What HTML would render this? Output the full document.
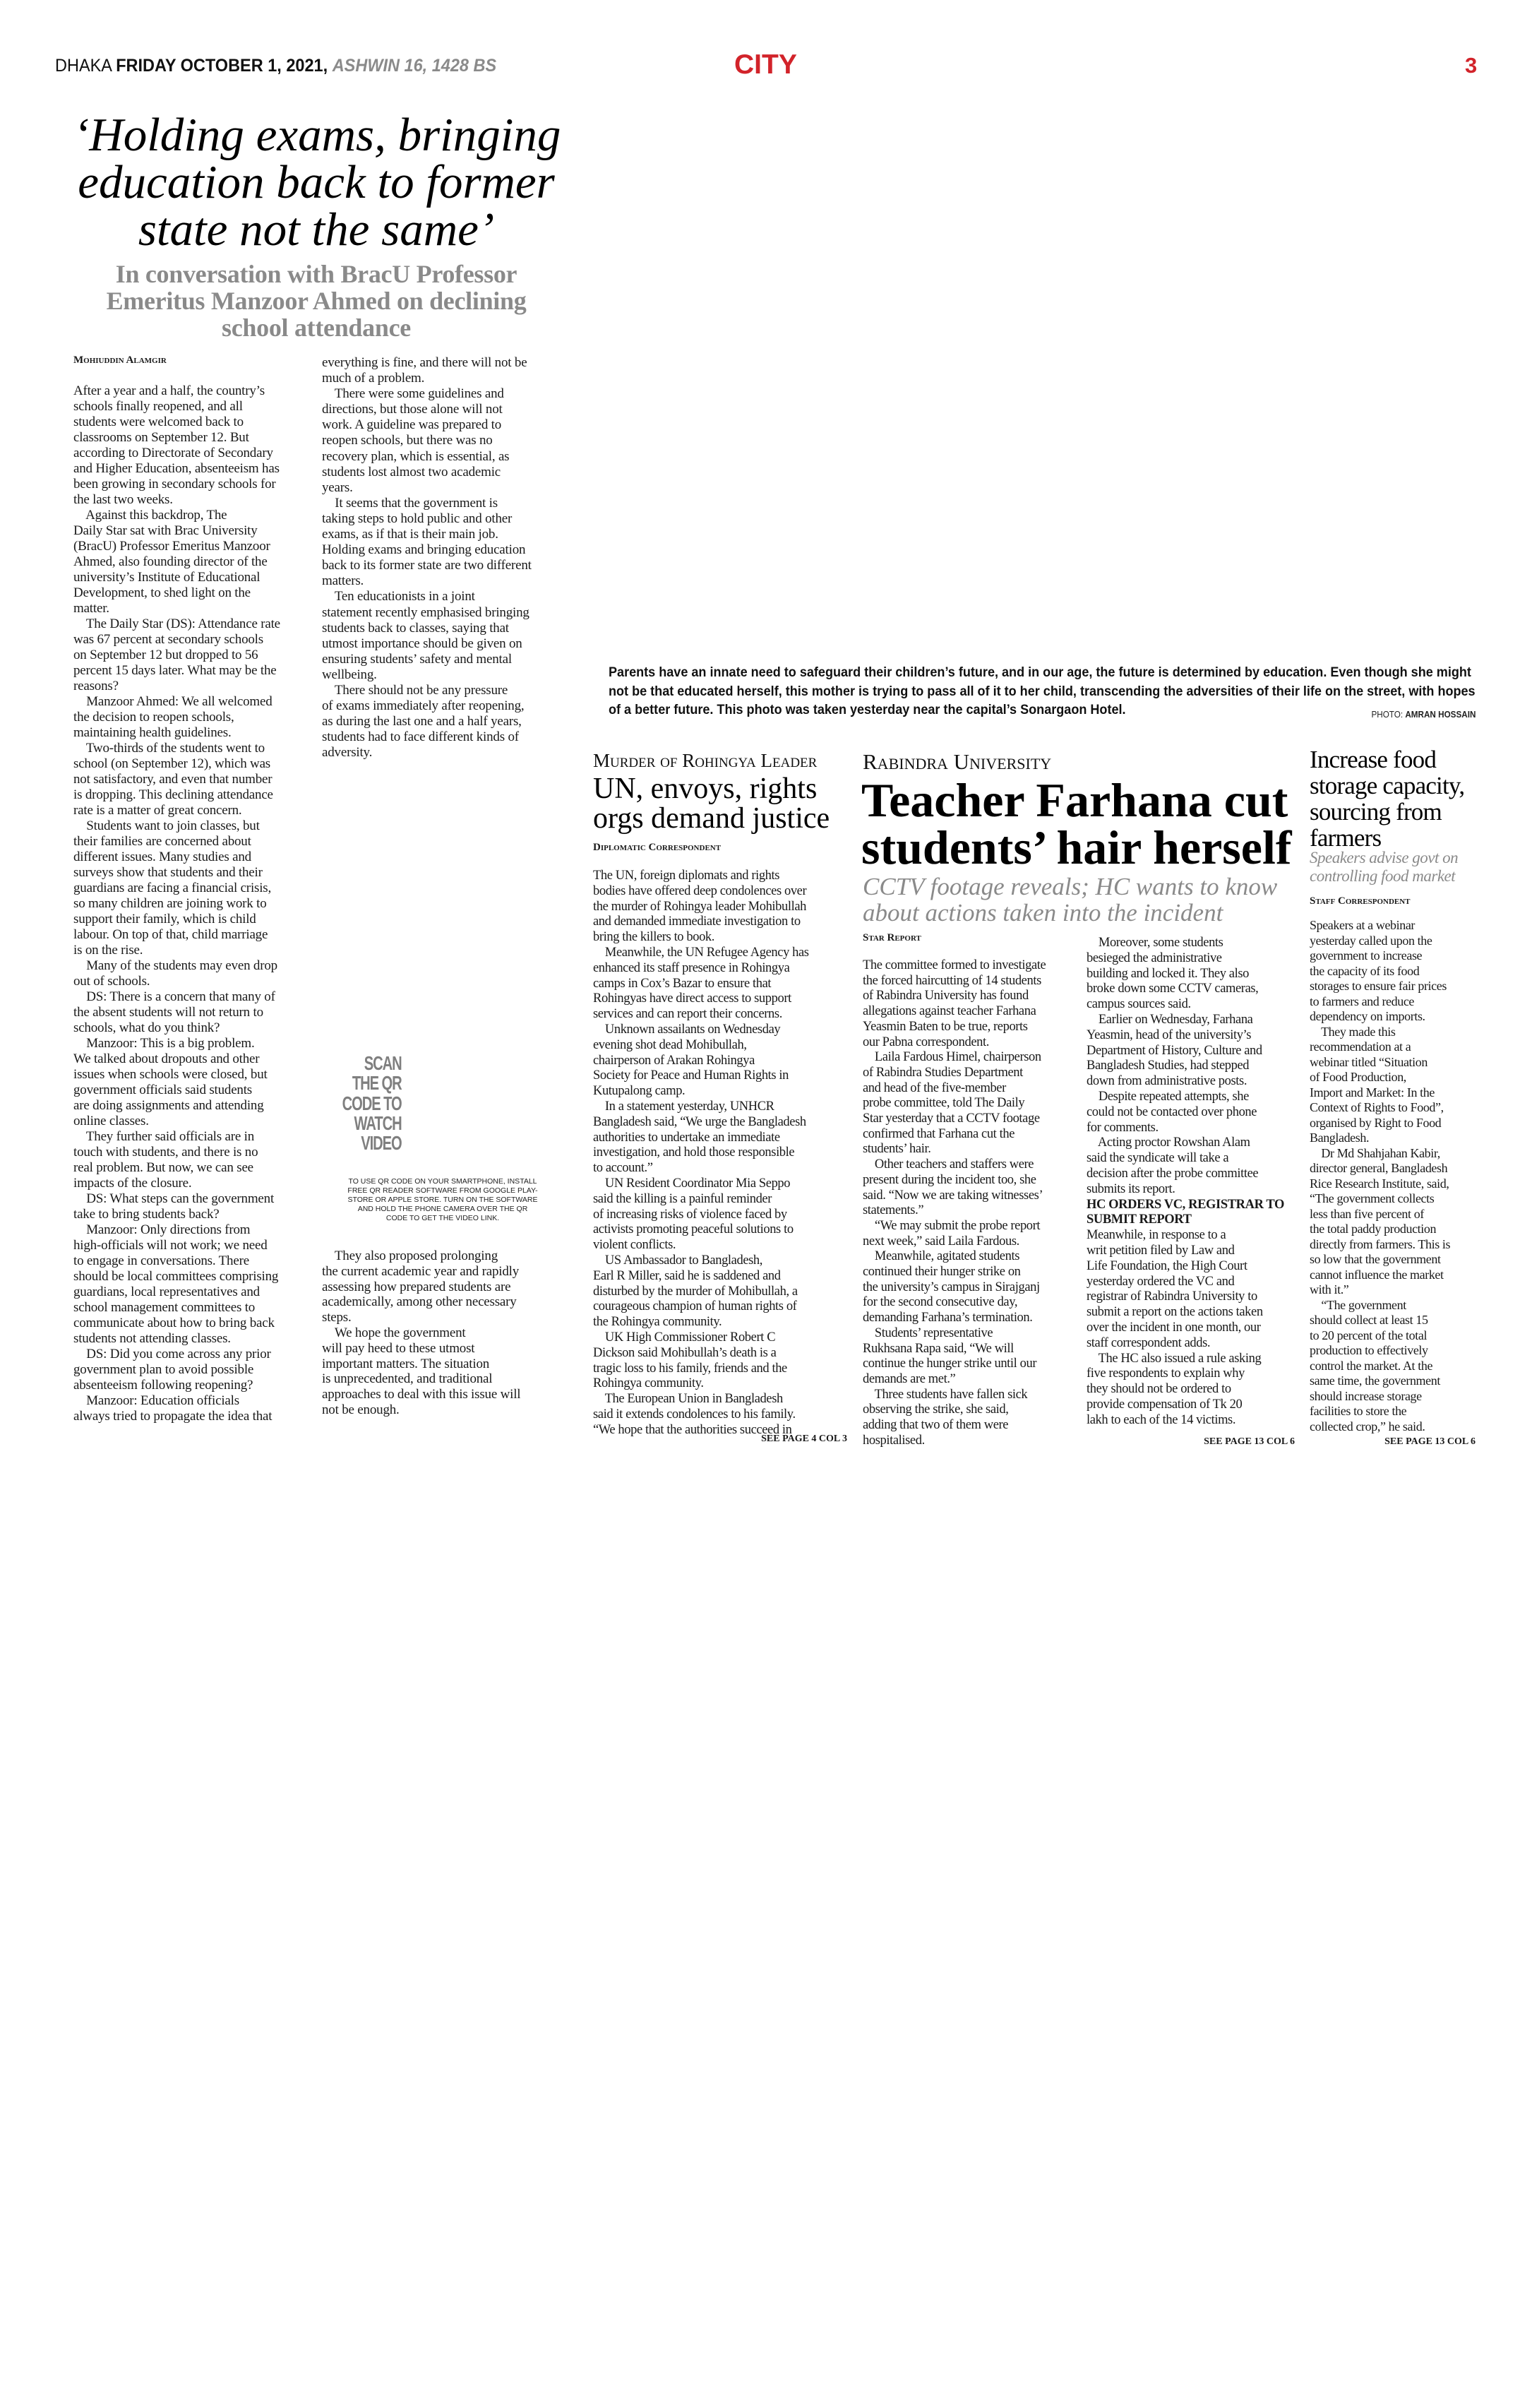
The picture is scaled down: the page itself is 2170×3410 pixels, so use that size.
<!DOCTYPE html>
<html><head><meta charset="utf-8">
<style>
html,body{margin:0;padding:0;background:#fff;}
body{width:2170px;height:3410px;position:relative;overflow:hidden;font-family:"Liberation Serif",serif;color:#1a1a1a;}
.a{position:absolute;white-space:pre;}
.body{font-size:19px;letter-spacing:-0.2px;}
.sc{font-variant:small-caps;}
</style></head><body>

<!-- header -->
<div class="a" style="left:78px;top:78px;font-family:'Liberation Sans',sans-serif;font-size:25px;line-height:30px;transform:scaleX(0.94);transform-origin:left top;color:#111">DHAKA <b>FRIDAY OCTOBER 1, 2021,</b> <b><i style="color:#8a8a8a">ASHWIN 16, 1428 BS</i></b></div>
<div class="a" style="left:1040px;top:70px;font-family:'Liberation Sans',sans-serif;font-weight:bold;font-size:39px;line-height:44px;color:#d2232a">CITY</div>
<div class="a" style="left:2075px;top:75px;font-family:'Liberation Sans',sans-serif;font-weight:bold;font-size:31px;line-height:36px;color:#d2232a">3</div>

<!-- left headline -->
<div class="a" style="left:104px;width:688px;top:158px;text-align:center;font-style:italic;font-size:67px;line-height:67px;color:#000">‘Holding exams, bringing
education back to former
state not the same’</div>
<div class="a" style="left:104px;width:688px;top:369px;text-align:center;font-weight:bold;font-size:36px;line-height:38px;color:#8a8a8a;letter-spacing:-0.3px">In conversation with BracU Professor
Emeritus Manzoor Ahmed on declining
school attendance</div>
<div class="a sc" style="left:104px;top:500px;font-size:15px;font-weight:bold;line-height:20px">Mohiuddin Alamgir</div>

<div class="a body" style="left:104px;top:543px;line-height:22px">After a year and a half, the country’s
schools finally reopened, and all
students were welcomed back to
classrooms on September 12. But
according to Directorate of Secondary
and Higher Education, absenteeism has
been growing in secondary schools for
the last two weeks.
    Against this backdrop, The
Daily Star sat with Brac University
(BracU) Professor Emeritus Manzoor
Ahmed, also founding director of the
university’s Institute of Educational
Development, to shed light on the
matter.
    The Daily Star (DS): Attendance rate
was 67 percent at secondary schools
on September 12 but dropped to 56
percent 15 days later. What may be the
reasons?
    Manzoor Ahmed: We all welcomed
the decision to reopen schools,
maintaining health guidelines.
    Two-thirds of the students went to
school (on September 12), which was
not satisfactory, and even that number
is dropping. This declining attendance
rate is a matter of great concern.
    Students want to join classes, but
their families are concerned about
different issues. Many studies and
surveys show that students and their
guardians are facing a financial crisis,
so many children are joining work to
support their family, which is child
labour. On top of that, child marriage
is on the rise.
    Many of the students may even drop
out of schools.
    DS: There is a concern that many of
the absent students will not return to
schools, what do you think?
    Manzoor: This is a big problem.
We talked about dropouts and other
issues when schools were closed, but
government officials said students
are doing assignments and attending
online classes.
    They further said officials are in
touch with students, and there is no
real problem. But now, we can see
impacts of the closure.
    DS: What steps can the government
take to bring students back?
    Manzoor: Only directions from
high-officials will not work; we need
to engage in conversations. There
should be local committees comprising
guardians, local representatives and
school management committees to
communicate about how to bring back
students not attending classes.
    DS: Did you come across any prior
government plan to avoid possible
absenteeism following reopening?
    Manzoor: Education officials
always tried to propagate the idea that</div>

<div class="a body" style="left:456px;top:503px;line-height:22.1px">everything is fine, and there will not be
much of a problem.
    There were some guidelines and
directions, but those alone will not
work. A guideline was prepared to
reopen schools, but there was no
recovery plan, which is essential, as
students lost almost two academic
years.
    It seems that the government is
taking steps to hold public and other
exams, as if that is their main job.
Holding exams and bringing education
back to its former state are two different
matters.
    Ten educationists in a joint
statement recently emphasised bringing
students back to classes, saying that
utmost importance should be given on
ensuring students’ safety and mental
wellbeing.
    There should not be any pressure
of exams immediately after reopening,
as during the last one and a half years,
students had to face different kinds of
adversity.</div>

<!-- QR -->
<div class="a" style="right:1601px;top:1492px;text-align:right;font-family:'Liberation Sans',sans-serif;font-weight:bold;font-size:28px;line-height:28.3px;color:#7f7f7f;letter-spacing:-1.5px;transform:scaleX(0.72);transform-origin:right top">SCAN
THE QR
CODE TO
WATCH
VIDEO</div>
<div class="a" style="left:467px;width:320px;top:1667px;text-align:center;font-family:'Liberation Sans',sans-serif;font-size:10.5px;line-height:13px;color:#222">TO USE QR CODE ON YOUR SMARTPHONE, INSTALL
FREE QR READER SOFTWARE FROM GOOGLE PLAY-
STORE OR APPLE STORE. TURN ON THE SOFTWARE
AND HOLD THE PHONE CAMERA OVER THE QR
CODE TO GET THE VIDEO LINK.</div>

<div class="a body" style="left:456px;top:1768px;line-height:21.8px">    They also proposed prolonging
the current academic year and rapidly
assessing how prepared students are
academically, among other necessary
steps.
    We hope the government
will pay heed to these utmost
important matters. The situation
is unprecedented, and traditional
approaches to deal with this issue will
not be enough.</div>

<!-- photo caption -->
<div class="a" style="left:862px;top:940px;font-family:'Liberation Sans',sans-serif;font-weight:bold;font-size:19px;line-height:26.5px;color:#111;transform:scaleX(0.95);transform-origin:left top">Parents have an innate need to safeguard their children’s future, and in our age, the future is determined by education. Even though she might
not be that educated herself, this mother is trying to pass all of it to her child, transcending the adversities of their life on the street, with hopes
of a better future. This photo was taken yesterday near the capital’s Sonargaon Hotel.</div>
<div class="a" style="right:80px;top:1004px;font-family:'Liberation Sans',sans-serif;font-size:13px;line-height:16px;color:#222;transform:scaleX(0.9);transform-origin:right top">PHOTO: <b>AMRAN HOSSAIN</b></div>

<!-- Col A -->
<div class="a sc" style="left:840px;top:1062px;font-size:27px;line-height:30px;color:#111">Murder of Rohingya Leader</div>
<div class="a" style="left:840px;top:1096px;font-size:42px;line-height:42px;color:#000;letter-spacing:0px">UN, envoys, rights
orgs demand justice</div>
<div class="a sc" style="left:840px;top:1190px;font-size:15px;font-weight:bold;line-height:20px">Diplomatic Correspondent</div>
<div class="a body" style="left:840px;top:1230px;line-height:21.8px;font-size:18.5px;letter-spacing:-0.4px">The UN, foreign diplomats and rights
bodies have offered deep condolences over
the murder of Rohingya leader Mohibullah
and demanded immediate investigation to
bring the killers to book.
    Meanwhile, the UN Refugee Agency has
enhanced its staff presence in Rohingya
camps in Cox’s Bazar to ensure that
Rohingyas have direct access to support
services and can report their concerns.
    Unknown assailants on Wednesday
evening shot dead Mohibullah,
chairperson of Arakan Rohingya
Society for Peace and Human Rights in
Kutupalong camp.
    In a statement yesterday, UNHCR
Bangladesh said, “We urge the Bangladesh
authorities to undertake an immediate
investigation, and hold those responsible
to account.”
    UN Resident Coordinator Mia Seppo
said the killing is a painful reminder
of increasing risks of violence faced by
activists promoting peaceful solutions to
violent conflicts.
    US Ambassador to Bangladesh,
Earl R Miller, said he is saddened and
disturbed by the murder of Mohibullah, a
courageous champion of human rights of
the Rohingya community.
    UK High Commissioner Robert C
Dickson said Mohibullah’s death is a
tragic loss to his family, friends and the
Rohingya community.
    The European Union in Bangladesh
said it extends condolences to his family.
“We hope that the authorities succeed in</div>
<div class="a" style="right:970px;top:2030px;font-size:14px;line-height:16px;font-weight:bold">SEE PAGE 4 COL 3</div>

<!-- Col B -->
<div class="a sc" style="left:1222px;top:1062px;font-size:31px;line-height:34px;color:#111">Rabindra University</div>
<div class="a" style="left:1220px;top:1100px;font-size:68px;line-height:67px;font-weight:bold;color:#000;letter-spacing:0px">Teacher Farhana cut
students’ hair herself</div>
<div class="a" style="left:1222px;top:1237px;font-size:35px;line-height:37px;font-style:italic;color:#8a8a8a;letter-spacing:0px">CCTV footage reveals; HC wants to know
about actions taken into the incident</div>
<div class="a sc" style="left:1222px;top:1318px;font-size:15px;font-weight:bold;line-height:20px">Star Report</div>
<div class="a body" style="left:1222px;top:1357px;line-height:21.7px;font-size:18.5px;letter-spacing:-0.4px">The committee formed to investigate
the forced haircutting of 14 students
of Rabindra University has found
allegations against teacher Farhana
Yeasmin Baten to be true, reports
our Pabna correspondent.
    Laila Fardous Himel, chairperson
of Rabindra Studies Department
and head of the five-member
probe committee, told The Daily
Star yesterday that a CCTV footage
confirmed that Farhana cut the
students’ hair.
    Other teachers and staffers were
present during the incident too, she
said. “Now we are taking witnesses’
statements.”
    “We may submit the probe report
next week,” said Laila Fardous.
    Meanwhile, agitated students
continued their hunger strike on
the university’s campus in Sirajganj
for the second consecutive day,
demanding Farhana’s termination.
    Students’ representative
Rukhsana Rapa said, “We will
continue the hunger strike until our
demands are met.”
    Three students have fallen sick
observing the strike, she said,
adding that two of them were
hospitalised.</div>
<div class="a body" style="left:1539px;top:1325px;line-height:21.8px;font-size:18.5px;letter-spacing:-0.4px">    Moreover, some students
besieged the administrative
building and locked it. They also
broke down some CCTV cameras,
campus sources said.
    Earlier on Wednesday, Farhana
Yeasmin, head of the university’s
Department of History, Culture and
Bangladesh Studies, had stepped
down from administrative posts.
    Despite repeated attempts, she
could not be contacted over phone
for comments.
    Acting proctor Rowshan Alam
said the syndicate will take a
decision after the probe committee
submits its report.
<b>HC ORDERS VC, REGISTRAR TO
SUBMIT REPORT</b>
Meanwhile, in response to a
writ petition filed by Law and
Life Foundation, the High Court
yesterday ordered the VC and
registrar of Rabindra University to
submit a report on the actions taken
over the incident in one month, our
staff correspondent adds.
    The HC also issued a rule asking
five respondents to explain why
they should not be ordered to
provide compensation of Tk 20
lakh to each of the 14 victims.</div>
<div class="a" style="right:336px;top:2034px;font-size:14px;line-height:16px;font-weight:bold">SEE PAGE 13 COL 6</div>

<!-- Col C -->
<div class="a" style="left:1855px;top:1057px;font-size:35px;line-height:37px;color:#000;letter-spacing:-0.8px">Increase food
storage capacity,
sourcing from
farmers</div>
<div class="a" style="left:1855px;top:1202px;font-size:23px;line-height:26px;font-style:italic;color:#8a8a8a;letter-spacing:-0.5px">Speakers advise govt on
controlling food market</div>
<div class="a sc" style="left:1855px;top:1266px;font-size:15px;font-weight:bold;line-height:20px">Staff Correspondent</div>
<div class="a body" style="left:1855px;top:1300px;line-height:21.5px;font-size:18px;letter-spacing:-0.4px">Speakers at a webinar
yesterday called upon the
government to increase
the capacity of its food
storages to ensure fair prices
to farmers and reduce
dependency on imports.
    They made this
recommendation at a
webinar titled “Situation
of Food Production,
Import and Market: In the
Context of Rights to Food”,
organised by Right to Food
Bangladesh.
    Dr Md Shahjahan Kabir,
director general, Bangladesh
Rice Research Institute, said,
“The government collects
less than five percent of
the total paddy production
directly from farmers. This is
so low that the government
cannot influence the market
with it.”
    “The government
should collect at least 15
to 20 percent of the total
production to effectively
control the market. At the
same time, the government
should increase storage
facilities to store the
collected crop,” he said.</div>
<div class="a" style="right:80px;top:2034px;font-size:14px;line-height:16px;font-weight:bold">SEE PAGE 13 COL 6</div>

</body></html>
